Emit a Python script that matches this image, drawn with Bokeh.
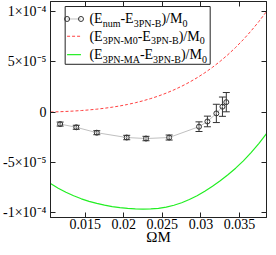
from bokeh.plotting import figure
from bokeh.models import (Range1d, LinearAxis, FixedTicker, ColumnDataSource,
                          Whisker, TeeHead, Label, BoxAnnotation)
from bokeh.embed import file_html
from bokeh.resources import INLINE

# ---------------- data ----------------
omega = [0.01175, 0.01384, 0.0165, 0.02038, 0.02288, 0.02588,
         0.02975, 0.03084, 0.0320, 0.03279, 0.03329]
e_num = [-12.0e-6, -15.2e-6, -20.6e-6, -25.4e-6, -26.4e-6, -25.4e-6,
         -14.6e-6, -9.4e-6, -1.4e-6, 5.3e-6, 9.8e-6]
e_err = [2.0e-6, 2.0e-6, 2.0e-6, 2.2e-6, 2.2e-6, 2.5e-6,
         4.8e-6, 5.3e-6, 9.1e-6, 9.6e-6, 9.6e-6]

curve_x = [0.0105, 0.0115, 0.0125, 0.0135, 0.0145, 0.0155, 0.0165, 0.0175,
           0.0185, 0.0195, 0.0205, 0.0215, 0.0225, 0.0235, 0.0245, 0.0255,
           0.0265, 0.0275, 0.0285, 0.0295, 0.0305, 0.0315, 0.0325, 0.0335,
           0.0345, 0.0355, 0.0365, 0.0375, 0.0385]
m0_diff = [0.0, 0.24e-6, 0.56e-6, 0.96e-6, 1.47e-6, 2.09e-6, 2.84e-6, 3.74e-6,
           4.81e-6, 6.06e-6, 7.53e-6, 9.22e-6, 11.17e-6, 13.40e-6, 15.93e-6,
           18.80e-6, 22.02e-6, 25.62e-6, 29.64e-6, 34.11e-6, 39.05e-6,
           44.51e-6, 50.51e-6, 57.09e-6, 64.28e-6, 72.13e-6, 80.68e-6,
           89.95e-6, 100.0e-6]
ma_diff = [-71.2e-6, -75.8e-6, -79.9e-6, -83.4e-6, -86.4e-6, -88.9e-6,
           -91.0e-6, -92.7e-6, -94.1e-6, -95.1e-6, -95.9e-6, -96.4e-6,
           -96.6e-6, -96.5e-6, -95.9e-6, -94.6e-6, -92.8e-6, -90.3e-6,
           -87.1e-6, -83.3e-6, -78.8e-6, -73.9e-6, -68.5e-6, -62.5e-6,
           -55.9e-6, -48.6e-6, -40.5e-6, -31.4e-6, -21.4e-6]

x_ticks = [0.015, 0.02, 0.025, 0.03, 0.035]
x_tick_labels = ["0.015", "0.02", "0.025", "0.03", "0.035"]
y_ticks = [1e-4, 5e-5, 0.0, -5e-5, -1e-4]
y_tick_labels = ["1\u00d710\u207b\u2074", "5\u00d710\u207b\u2075", "0",
                 "-5\u00d710\u207b\u2075", "-1\u00d710\u207b\u2074"]

x_label = "\u03a9M"
legend_rows = [
    [("(E", 0), ("num", 1), ("-E", 0), ("3PN-B", 1), (")/M", 0), ("0", 1)],
    [("(E", 0), ("3PN-M0", 1), ("-E", 0), ("3PN-B", 1), (")/M", 0), ("0", 1)],
    [("(E", 0), ("3PN-MA", 1), ("-E", 0), ("3PN-B", 1), (")/M", 0), ("0", 1)],
]

# ---------------- style ----------------
FONT = "Liberation Serif"
AX = "#222222"
X0, X1 = 0.0105, 0.0385
Y0, Y1 = -1.05e-4, 1.1e-4

TW = {'(': 333, ')': 333, 'E': 611, '-': 333, '/': 278, 'M': 889, 'n': 500,
      'u': 500, 'm': 778, 'P': 556, 'N': 722, 'B': 667, 'A': 722, '\u00d7': 564}


def text_w(s, size):
    return sum(TW.get(c, 500) for c in s) / 1000.0 * size


p = figure(width=268, height=247, x_range=Range1d(X0, X1), y_range=Range1d(Y0, Y1),
           output_backend="svg", toolbar_location=None,
           min_border_left=40, min_border_right=2, min_border_top=1, min_border_bottom=0,
           background_fill_color="white", border_fill_color="white",
           outline_line_color=AX, outline_line_width=1)
p.grid.visible = False

# bottom axis
xa = p.xaxis[0]
xa.ticker = FixedTicker(ticks=x_ticks)
xa.major_label_overrides = {t: s for t, s in zip(x_ticks, x_tick_labels)}
xa.major_label_text_font = FONT
xa.major_label_text_font_size = "14px"
xa.major_label_text_color = "black"
xa.major_label_standoff = 1
xa.major_tick_in = 5
xa.major_tick_out = 0
xa.minor_tick_line_color = None
xa.axis_line_color = AX
xa.major_tick_line_color = AX

# axis title (centered under the frame, tight spacing)
x_mid = (X0 + X1) / 2
title_ax = LinearAxis(ticker=FixedTicker(ticks=[x_mid]),
                      major_label_overrides={x_mid: x_label},
                      major_label_text_font=FONT, major_label_text_font_size="15px",
                      major_label_text_color="black", major_label_standoff=-3,
                      axis_line_color=None, major_tick_line_color=None,
                      minor_tick_line_color=None, major_tick_in=0, major_tick_out=0)
p.add_layout(title_ax, "below")

# left axis
ya = p.yaxis[0]
ya.ticker = FixedTicker(ticks=y_ticks)
ya.major_label_overrides = {t: s for t, s in zip(y_ticks, y_tick_labels)}
ya.major_label_text_font = FONT
ya.major_label_text_font_size = "14px"
ya.major_label_text_color = "black"
ya.major_label_standoff = 4
ya.major_tick_in = 5
ya.major_tick_out = 0
ya.minor_tick_line_color = None
ya.axis_line_color = AX
ya.major_tick_line_color = AX

for loc, ticks in (("above", x_ticks), ("right", y_ticks)):
    ax = LinearAxis(ticker=FixedTicker(ticks=ticks),
                    major_label_overrides={t: "" for t in ticks},
                    major_label_text_font_size="1px",
                    major_label_standoff=0, major_tick_in=5, major_tick_out=0,
                    minor_tick_line_color=None, axis_line_color=AX,
                    major_tick_line_color=AX)
    p.add_layout(ax, loc)

# curves
p.line(curve_x, m0_diff, line_color="#ff4040", line_width=1, line_dash="3 2")
p.line(curve_x, ma_diff, line_color="#22ee22", line_width=1.2)

# numerical data with error bars
src = ColumnDataSource(dict(x=omega, y=e_num,
                            upper=[v + e for v, e in zip(e_num, e_err)],
                            lower=[v - e for v, e in zip(e_num, e_err)]))
p.line("x", "y", source=src, line_color="#c0c0c0", line_width=1)
p.add_layout(Whisker(source=src, base="x", upper="upper", lower="lower",
                     dimension="height", line_color="#333333", line_width=1,
                     upper_head=TeeHead(size=7, line_color="#333333", line_width=1),
                     lower_head=TeeHead(size=7, line_color="#333333", line_width=1)))
p.scatter("x", "y", source=src, marker="circle", size=5, fill_color=None,
          line_color="#333333", line_width=1)

# legend (box, samples, labels with subscripts)
box_l, box_r = 0.01240, 0.0312
box_t, box_b = 105e-6, 47.5e-6
row_y = [92.6e-6, 75.4e-6, 57.1e-6]
samp_x0, samp_x1 = 0.01265, 0.01445
text_x = 0.01555
p.add_layout(BoxAnnotation(left=box_l, right=box_r, top=box_t, bottom=box_b,
                           fill_color="white", fill_alpha=1.0, line_color=AX,
                           line_alpha=1.0, line_width=1))
p.line([samp_x0, samp_x1], [row_y[0], row_y[0]], line_color="#c0c0c0",
       line_width=1, level="overlay")
p.scatter([samp_x0, samp_x1], [row_y[0], row_y[0]], marker="circle", size=5,
          fill_color=None, line_color="#333333", level="overlay")
p.line([samp_x0, samp_x1], [row_y[1], row_y[1]], line_color="#ff4040",
       line_width=1, line_dash="3 2", level="overlay")
p.line([samp_x0, samp_x1], [row_y[2], row_y[2]], line_color="#22ee22",
       line_width=1.2, level="overlay")
for ry, segs in zip(row_y, legend_rows):
    off = 0.0
    for s, is_sub in segs:
        size = 10 if is_sub else 14
        p.add_layout(Label(x=text_x, y=ry, x_offset=off, y_offset=-4.5 if is_sub else 0,
                           text=s, text_align="left", text_baseline="middle",
                           text_font=FONT, text_font_size=f"{size}px",
                           text_color="black", level="overlay"))
        off += text_w(s, size)

open("out.html", "w").write(file_html(p, INLINE))
